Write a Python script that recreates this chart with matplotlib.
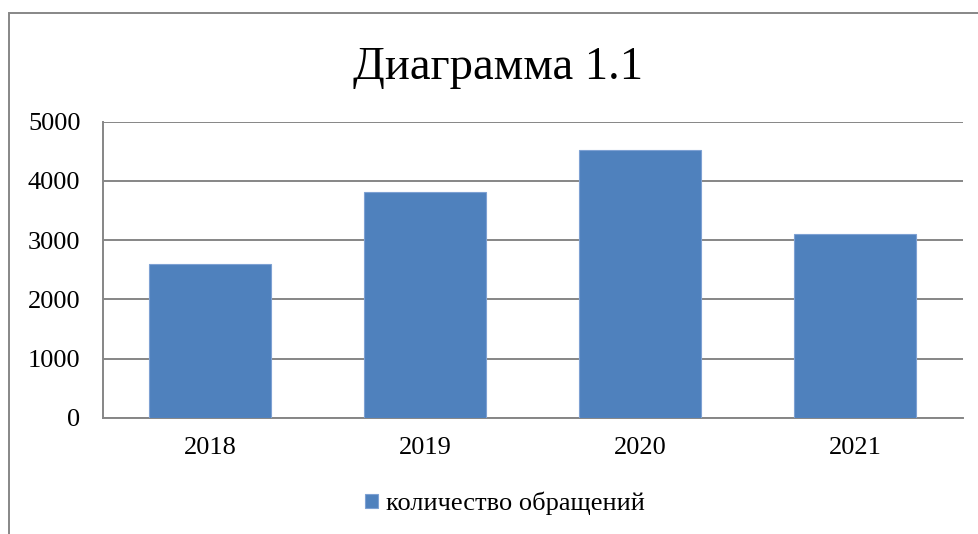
import matplotlib
matplotlib.use("Agg")
import matplotlib.pyplot as plt
from matplotlib.patches import Rectangle

categories = ["2018", "2019", "2020", "2021"]
values = [2600, 3820, 4520, 3110]
yticks = [0, 1000, 2000, 3000, 4000, 5000]
title = "Диаграмма 1.1"
series_name = "количество обращений"

plt.rcParams['font.family'] = ['Liberation Serif', 'DejaVu Serif']

W, H = 979, 534
fig = plt.figure(figsize=(W / 100, H / 100), dpi=100)
fig.patch.set_facecolor("white")

# outer chart frame
frame = Rectangle((9 / W, -0.1), 1.2, (H - 12.7) / H + 0.1, transform=fig.transFigure,
                  fill=False, edgecolor="#878787", linewidth=1.4, zorder=0)
fig.add_artist(frame)

ax = fig.add_axes([102.7 / W, (H - 417.7) / H, (962.7 - 102.7) / W, (417.7 - 121.7) / H])
x = range(len(categories))
ax.bar(x, values, width=0.57, color="#4F81BD", edgecolor="#7EA1D3", linewidth=0.8,
       zorder=3, label=series_name)
ax.set_xlim(-0.5, len(categories) - 0.5)
ax.set_ylim(0, 5000)
ax.set_yticks(yticks)
ax.set_yticklabels([str(v) for v in yticks])
ax.set_xticks(list(x))
ax.set_xticklabels(categories)
ax.yaxis.grid(True, color="#868686", linewidth=1.4, zorder=0)
ax.set_axisbelow(True)
for s in ["top", "right"]:
    ax.spines[s].set_visible(False)
for s in ["left", "bottom"]:
    ax.spines[s].set_color("#868686")
    ax.spines[s].set_linewidth(1.4)
ax.tick_params(axis="both", length=0, labelsize=19, colors="black")
ax.tick_params(axis="y", pad=16)
ax.tick_params(axis="x", pad=14)

fig.text(0.509, 0.873, title, ha="center", va="center", fontsize=33.6)

handles, labels = ax.get_legend_handles_labels()
fig.legend(handles, labels, loc="center", bbox_to_anchor=(0.516, 0.057), frameon=False,
           fontsize=19, handlelength=0.48, handleheight=0.48, handletextpad=0.3)

fig.savefig("out.png", dpi=100, facecolor="white")
